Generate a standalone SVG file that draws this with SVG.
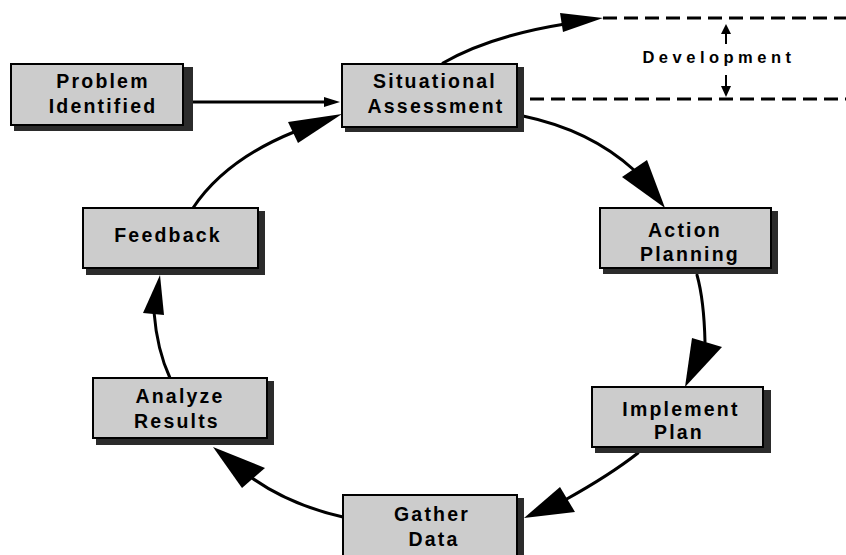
<svg xmlns="http://www.w3.org/2000/svg" width="846" height="555" viewBox="0 0 846 555">
<style>
.shadow{fill:#2b2b2b}
.box{fill:#cccccc;stroke:#000;stroke-width:2}
.t{font-family:"Liberation Sans",Arial,sans-serif;font-weight:bold;font-size:19.5px;letter-spacing:2.2px;fill:#000;text-anchor:middle}
.dev{font-family:"Liberation Sans",Arial,sans-serif;font-weight:bold;font-size:16.5px;letter-spacing:4.5px;fill:#000;text-anchor:middle}
.c{fill:none;stroke:#000;stroke-width:3;stroke-linecap:round}
.d{fill:none;stroke:#000;stroke-width:3;stroke-dasharray:14 7}
.h{fill:#000}
</style>
<rect width="846" height="555" fill="#fff"/>
<g id="connectors">
<line class="c" x1="190" y1="102" x2="326" y2="102"/>
<polygon class="h" points="324,97 340,102 324,107"/>
<path class="c" d="M443,63 Q490,36 565,24"/>
<polygon class="h" points="560,13 603,18 563,32"/>
<path class="c" d="M523,116 Q590,130 634,170"/>
<polygon class="h" points="622,177 647,160 665,208"/>
<path class="c" d="M697,275 Q704,300 705,342"/>
<polygon class="h" points="692,338 722,347 685,387"/>
<path class="c" d="M638,453 Q610,475 565,500"/>
<polygon class="h" points="560,487 575,512 524,518"/>
<path class="c" d="M343,517 Q290,505 252,478"/>
<polygon class="h" points="265,468 242,488 213,447"/>
<path class="c" d="M170,378 Q157,350 154,312"/>
<polygon class="h" points="143,313 164,315 160,275"/>
<path class="c" d="M193,208 Q225,160 294,132"/>
<polygon class="h" points="288,122 298,143 342,114"/>
<line class="d" x1="603" y1="18" x2="846" y2="18"/>
<line class="d" x1="530" y1="99" x2="846" y2="99"/>
<line x1="726" y1="44" x2="726" y2="31" stroke="#000" stroke-width="2"/>
<polygon class="h" points="721,34 726,24 731,34"/>
<line x1="726" y1="75" x2="726" y2="88" stroke="#000" stroke-width="2"/>
<polygon class="h" points="721,86 726,97 731,86"/>
</g>
<g id="development">
<text class="dev" x="719" y="63">Development</text>
</g>
<g id="problem">
<rect class="shadow" x="14" y="67" width="179" height="64"/>
<rect class="box" x="11" y="64" width="172" height="61"/>
<text class="t" x="103" y="88">Problem</text>
<text class="t" x="103" y="113">Identified</text>
</g>
<g id="situational">
<rect class="shadow" x="345" y="67" width="179" height="65"/>
<rect class="box" x="342" y="64" width="175" height="63"/>
<text class="t" x="435" y="88">Situational</text>
<text class="t" x="436" y="113">Assessment</text>
</g>
<g id="action">
<rect class="shadow" x="603" y="211" width="175" height="63"/>
<rect class="box" x="600" y="208" width="171" height="60"/>
<text class="t" x="685" y="237">Action</text>
<text class="t" x="690" y="261">Planning</text>
</g>
<g id="implement">
<rect class="shadow" x="595" y="390" width="176" height="63"/>
<rect class="box" x="592" y="387" width="171" height="60"/>
<text class="t" x="681" y="416">Implement</text>
<text class="t" x="679" y="439">Plan</text>
</g>
<g id="gather">
<rect class="shadow" x="346" y="498" width="178" height="70"/>
<rect class="box" x="343" y="495" width="174" height="70"/>
<text class="t" x="432" y="521">Gather</text>
<text class="t" x="434" y="546">Data</text>
</g>
<g id="analyze">
<rect class="shadow" x="96" y="381" width="178" height="64"/>
<rect class="box" x="93" y="378" width="174" height="60"/>
<text class="t" x="180" y="403">Analyze</text>
<text class="t" x="177" y="428">Results</text>
</g>
<g id="feedback">
<rect class="shadow" x="86" y="211" width="179" height="64"/>
<rect class="box" x="83" y="208" width="175" height="60"/>
<text class="t" x="168" y="242">Feedback</text>
</g>
</svg>
